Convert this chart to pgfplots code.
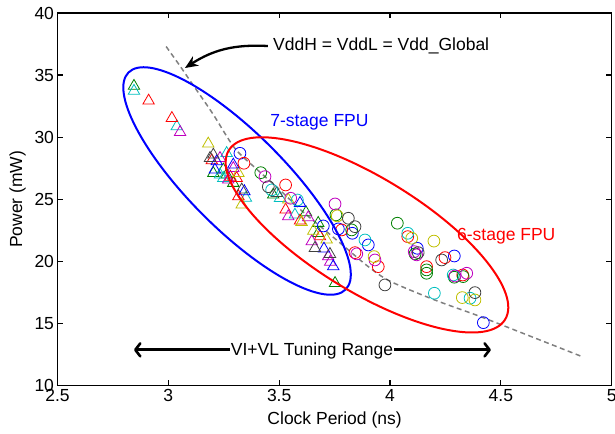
\documentclass[border=0pt]{standalone}
\usepackage{pgfplots}
\pgfplotsset{compat=1.18}
\usepackage{fontspec}
\setmainfont{Liberation Sans}
\usetikzlibrary{arrows.meta,calc}
\definecolor{mb}{rgb}{0,0,1}
\definecolor{mg}{rgb}{0,0.5,0}
\definecolor{mr}{rgb}{1,0,0}
\definecolor{mc}{rgb}{0,0.75,0.75}
\definecolor{mm}{rgb}{0.75,0,0.75}
\definecolor{my}{rgb}{0.75,0.75,0}
\definecolor{mk}{rgb}{0.25,0.25,0.25}
\begin{document}
\begin{tikzpicture}[font=\fontsize{17.5}{20}\selectfont]
\begin{axis}[
  scale only axis, width=554.2pt, height=372.5pt,
  xmin=2.5, xmax=5, ymin=10, ymax=40,
  xtick={2.5,3,3.5,4,4.5,5}, ytick={10,15,20,25,30,35,40},
  tick align=inside, major tick length=5.5pt,
  axis line style={line width=1.3pt},
  every tick/.style={black, line width=1.2pt},
  /pgf/number format/assume math mode=true,
  tick label style={font=\fontsize{17.5}{20}\selectfont},
  clip=false,
  tri/.style={only marks, mark=triangle, mark size=6.6pt, mark options={line width=0.8pt}},
  cir/.style={only marks, mark=o, mark size=5.9pt, mark options={line width=0.8pt}},
]
% dashed reference curve
\addplot[color={rgb,1:red,0.5;green,0.5;blue,0.5}, line width=1.5pt, dash pattern=on 5pt off 3.5pt, smooth] coordinates {
(2.99,37.3)(3.05,35.8)(3.1,34.5)(3.2,31.9)(3.3,29.1)(3.4,27.4)(3.5,25.8)(3.6,24.1)(3.7,22.6)(3.8,21.1)(3.9,19.6)(4.0,18.4)(4.2,16.9)(4.4,15.6)(4.6,14.2)(4.87,12.3)};
% triangles (7-stage)
\addplot[tri, color=mg] coordinates {(2.845,34.12)(3.203,27.10)(3.248,27.38)(3.293,26.30)(3.263,26.97)(3.473,25.36)(3.621,23.94)(3.676,23.08)(3.676,22.27)(3.752,18.24)};
\addplot[tri, color=mc] coordinates {(2.845,33.72)(3.038,30.86)(3.263,28.71)(3.233,26.97)(3.248,26.70)(3.35,25.1)(3.504,25.09)(3.571,23.75)};
\addplot[tri, color=mr] coordinates {(2.911,32.93)(3.016,31.53)(3.196,28.12)(3.308,26.70)(3.316,25.23)(3.529,24.15)(3.594,23.27)(3.684,22.00)(3.28,26.8)};
\addplot[tri, color=mm] coordinates {(3.053,30.40)(3.233,28.31)(3.293,27.50)(3.270,26.57)(3.541,23.62)(3.631,23.53)(3.647,21.60)(3.721,20.39)(3.73,19.95)};
\addplot[tri, color=my] coordinates {(3.180,29.47)(3.316,27.10)(3.331,24.56)(3.541,24.96)(3.601,23.16)(3.654,22.45)(3.714,21.74)};
\addplot[tri, color=mb] coordinates {(3.218,28.04)(3.210,27.38)(3.293,27.78)(3.343,25.63)(3.702,21.01)(3.744,19.59)(3.594,24.69)};
\addplot[tri, color=mk] coordinates {(3.203,28.58)(3.188,28.31)(3.331,25.77)(3.489,25.49)(3.661,21.06)(3.729,20.58)};
% circles (6-stage)
\addplot[cir, color=mb] coordinates {(3.323,28.70)(3.699,22.85)(3.767,22.61)(3.830,22.26)(3.902,21.32)(4.123,21.05)(4.290,20.43)(4.421,15.06)};
\addplot[cir, color=mr] coordinates {(3.341,27.90)(3.529,26.15)(3.782,22.53)(3.842,20.70)(3.947,19.57)(4.080,21.99)(4.165,19.57)(4.248,20.30)(4.328,18.90)};
\addplot[cir, color=mg] coordinates {(3.417,27.14)(3.756,23.74)(3.827,22.53)(4.033,23.07)(4.165,19.31)(4.165,19.04)(4.290,18.72)(4.330,18.77)(4.113,20.60)};
\addplot[cir, color=mc] coordinates {(3.466,25.75)(3.582,24.94)(3.887,21.72)(4.080,22.26)(4.200,17.43)(4.285,18.90)(4.361,17.03)};
\addplot[cir, color=mm] coordinates {(3.436,26.82)(3.552,25.08)(3.752,24.62)(3.850,20.60)(3.932,20.11)(4.109,20.78)(4.120,20.52)(4.346,19.04)(4.293,18.82)};
\addplot[cir, color=my] coordinates {(3.762,23.66)(3.928,20.38)(4.098,21.86)(4.198,21.63)(4.326,17.08)(4.383,16.89)};
\addplot[cir, color=mk] coordinates {(3.451,26.01)(3.812,23.47)(3.842,22.79)(3.977,18.10)(4.127,20.70)(4.233,20.11)(4.383,17.48)};
% annotations
\node[anchor=base west, inner sep=0] at (axis cs:3.472,36.94) {VddH = VddL = Vdd\_Global};
\draw[-{Stealth[length=13pt,width=11pt]}, line width=2.3pt] (axis cs:3.449,37.34) to[bend right=18] (axis cs:3.075,35.57);
\node[anchor=base west, inner sep=0, text=mb] at (axis cs:3.459,30.82) {7-stage FPU};
\node[anchor=base west, inner sep=0, text=mr] at (axis cs:4.302,21.64) {6-stage FPU};
\draw[{Straight Barb[length=5pt,width=13pt,line width=2.6pt,round]}-{Straight Barb[length=5pt,width=13pt,line width=2.6pt,round]}, line width=2.8pt] (axis cs:2.845,12.87) -- (axis cs:4.455,12.87);
\node[anchor=base, fill=white, inner xsep=0.5pt, inner ysep=1pt] at (axis cs:3.648,12.38) {VI+VL Tuning Range};
\coordinate (bc) at (axis cs:3.310,26.47);
\coordinate (rc) at (axis cs:3.896,22.13);
\coordinate (sw) at (rel axis cs:0,0);
\coordinate (ne) at (rel axis cs:1,1);
\coordinate (xl) at (rel axis cs:0.5,0);
\coordinate (yl) at (rel axis cs:0,0.5);
\end{axis}
\begin{scope}[shift={(bc)}, rotate=-45]
\draw[mb, line width=2pt] (0,0) ellipse [x radius=153.5pt, y radius=48pt];
\end{scope}
\begin{scope}[shift={(rc)}, rotate=-31.5]
\draw[mr, line width=2pt] (0,0) ellipse [x radius=162pt, y radius=57pt];
\end{scope}
\node[anchor=base] at ($(xl)+(0,-39.5pt)$) {Clock Period (ns)};
\node[anchor=base, rotate=90] at ($(yl)+(-35.5pt,0)$) {Power (mW)};
\pgfresetboundingbox
\path[use as bounding box] ($(sw)+(-57.5pt,-48.5pt)$) rectangle ($(ne)+(3.3pt,13pt)$);
\end{tikzpicture}
\end{document}
